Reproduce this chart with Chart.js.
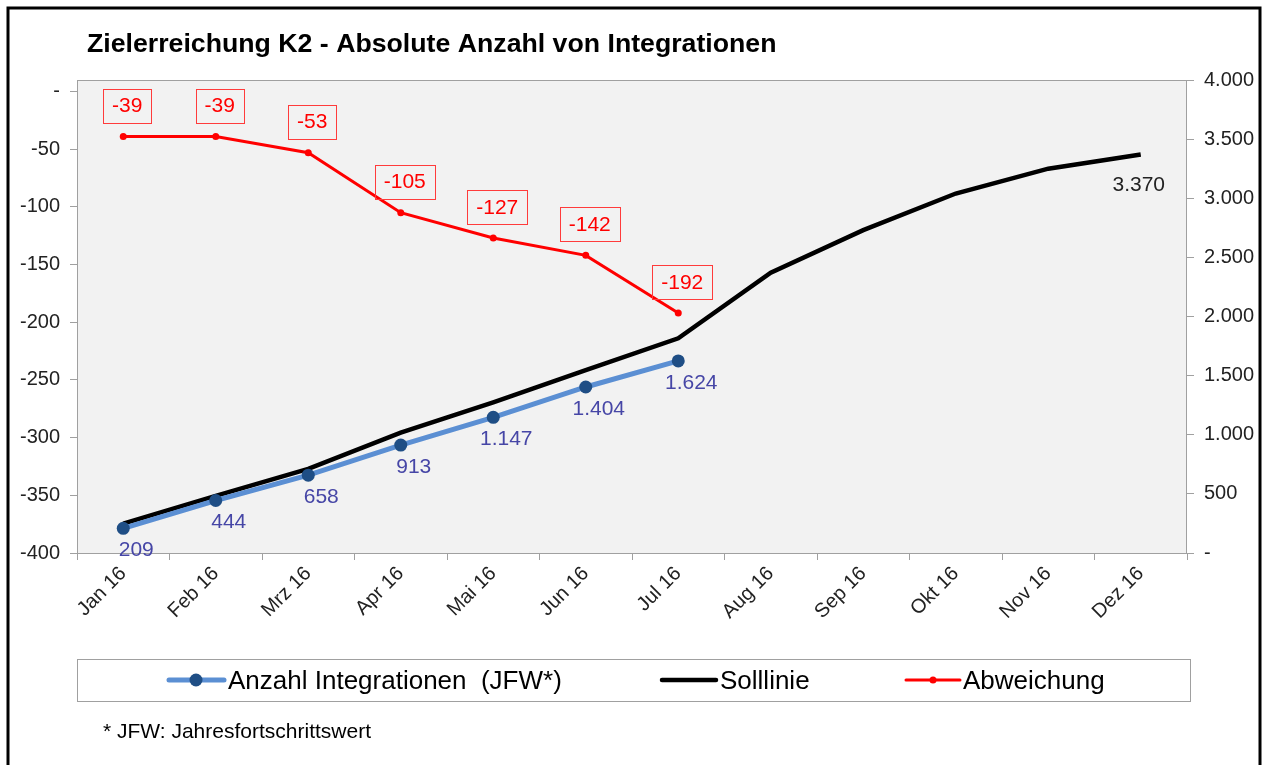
<!DOCTYPE html>
<html>
<head>
<meta charset="utf-8">
<script src="https://cdn.jsdelivr.net/npm/chart.js@4/dist/chart.umd.min.js"></script>
<style>
  html, body { margin: 0; padding: 0; background: #fff; }
  #wrap { width: 1270px; height: 765px; }
</style>
</head>
<body>
<div id="wrap"><canvas id="k2Chart" width="1270" height="765"></canvas></div>
<script>
// Werte
const months = ['Jan 16', 'Feb 16', 'Mrz 16', 'Apr 16', 'Mai 16', 'Jun 16', 'Jul 16', 'Aug 16', 'Sep 16', 'Okt 16', 'Nov 16', 'Dez 16'];
const integrationen = [209, 444, 658, 913, 1147, 1404, 1624];
const solllinie = [248, 483, 711, 1018, 1274, 1546, 1816, 2370, 2730, 3040, 3250, 3370];
const abweichung = [-39, -39, -53, -105, -127, -142, -192];
const leftTicks = [-400, -350, -300, -250, -200, -150, -100, -50, 0];
const rightTicks = [0, 500, 1000, 1500, 2000, 2500, 3000, 3500, 4000];

const FONT = "'Liberation Sans', Arial, sans-serif";

function fmt(v) {
    return String(v).replace(/\B(?=(\d{3})+(?!\d))/g, '.');
}

const k2Plugin = {
    id: 'k2Plugin',
    beforeDraw(chart) {
        const c = chart.ctx, a = chart.chartArea;
        c.save();
        c.fillStyle = '#ffffff';
        c.fillRect(0, 0, chart.width, chart.height);
        c.fillStyle = '#f2f2f2';
        c.fillRect(a.left, a.top, a.right - a.left, a.bottom - a.top);
        c.strokeStyle = '#a0a0a0';
        c.lineWidth = 1;
        c.strokeRect(a.left + 0.5, a.top + 0.5, a.right - a.left - 1, a.bottom - a.top);
        c.restore();
    },
    afterDraw(chart) {
        const c = chart.ctx;
        c.save();

        // Titel
        c.fillStyle = '#000';
        c.font = 'bold 26.7px ' + FONT;
        c.textAlign = 'left';
        c.textBaseline = 'alphabetic';
        c.fillText('Zielerreichung K2 - Absolute Anzahl von Integrationen', 87, 52);

        // Datenbeschriftungen
        c.font = '21px ' + FONT;
        c.textAlign = 'center';
        c.textBaseline = 'middle';

        chart.getDatasetMeta(0).data.forEach((p, i) => {
            c.fillStyle = '#4646a6';
            c.fillText(fmt(integrationen[i]), p.x + 13, p.y + 22);
        });

        const sollPts = chart.getDatasetMeta(1).data;
        const last = sollPts[sollPts.length - 1];
        c.fillStyle = '#222';
        c.fillText(fmt(solllinie[solllinie.length - 1]), last.x - 2, last.y + 31);

        chart.getDatasetMeta(2).data.forEach((p, i) => {
            const txt = fmt(abweichung[i]);
            const w = c.measureText(txt).width + 18;
            const h = 34;
            const cx = p.x + 4, cy = p.y - 31;
            c.strokeStyle = '#ff3b3b';
            c.lineWidth = 1;
            c.strokeRect(Math.round(cx - w / 2) + 0.5, Math.round(cy - h / 2) + 0.5, Math.round(w), h);
            c.fillStyle = '#ff0000';
            c.fillText(txt, cx, cy + 1);
        });

        // Legende
        c.strokeStyle = '#a0a0a0';
        c.lineWidth = 1;
        c.strokeRect(77.5, 659.5, 1113, 42);
        const ly = 680;
        c.lineCap = 'round';
        c.strokeStyle = '#5b8fd3';
        c.lineWidth = 5;
        c.beginPath(); c.moveTo(169, ly); c.lineTo(224, ly); c.stroke();
        c.fillStyle = '#1f4e85';
        c.beginPath(); c.arc(196, ly, 6.5, 0, Math.PI * 2); c.fill();
        c.strokeStyle = '#000';
        c.lineWidth = 4.5;
        c.beginPath(); c.moveTo(662, ly); c.lineTo(716, ly); c.stroke();
        c.strokeStyle = '#ff0000';
        c.lineWidth = 3;
        c.beginPath(); c.moveTo(906, ly); c.lineTo(960, ly); c.stroke();
        c.fillStyle = '#ff0000';
        c.beginPath(); c.arc(933, ly, 3.5, 0, Math.PI * 2); c.fill();

        c.fillStyle = '#000';
        c.font = '26px ' + FONT;
        c.textAlign = 'left';
        c.textBaseline = 'alphabetic';
        c.fillText('Anzahl Integrationen  (JFW*)', 228, 689);
        c.fillText('Solllinie', 720, 689);
        c.fillText('Abweichung', 963, 689);

        // Fussnote
        c.font = '21px ' + FONT;
        c.fillText('* JFW: Jahresfortschrittswert', 103, 738);

        // Rahmen
        c.strokeStyle = '#000';
        c.lineWidth = 3;
        c.strokeRect(8, 8, 1252, 800);
        c.restore();
    }
};

const ctx = document.getElementById('k2Chart').getContext('2d');
new Chart(ctx, {
    type: 'line',
    data: {
        labels: months,
        datasets: [{
            label: 'Anzahl Integrationen  (JFW*)',
            data: integrationen,
            yAxisID: 'y1',
            borderColor: '#5b8fd3',
            borderWidth: 5,
            pointRadius: 6.5,
            pointBackgroundColor: '#1f4e85',
            pointBorderWidth: 0,
            tension: 0
        }, {
            label: 'Solllinie',
            data: solllinie,
            yAxisID: 'y1',
            borderColor: '#000000',
            borderWidth: 4.5,
            pointRadius: 0,
            tension: 0
        }, {
            label: 'Abweichung',
            data: abweichung,
            yAxisID: 'y',
            borderColor: '#ff0000',
            borderWidth: 3,
            pointRadius: 3.5,
            pointBackgroundColor: '#ff0000',
            pointBorderWidth: 0,
            tension: 0
        }]
    },
    options: {
        responsive: false,
        animation: false,
        events: [],
        layout: { padding: { left: 7, right: 13, top: 80, bottom: 0 } },
        plugins: {
            legend: { display: false },
            tooltip: { enabled: false }
        },
        scales: {
            x: {
                offset: true,
                grid: { offset: true, drawOnChartArea: false, tickLength: 7, color: '#a0a0a0' },
                border: { display: false },
                ticks: {
                    minRotation: 45,
                    maxRotation: 45,
                    padding: 2,
                    color: '#222',
                    font: { family: FONT, size: 20 }
                },
                afterFit(s) { s.height = 212; }
            },
            y: {
                position: 'left',
                min: -400,
                max: 10,
                grid: { drawOnChartArea: false, tickLength: 7, color: '#a0a0a0' },
                border: { display: false },
                afterBuildTicks(s) { s.ticks = leftTicks.map(v => ({ value: v })); },
                ticks: {
                    padding: 10,
                    color: '#222',
                    font: { family: FONT, size: 20 },
                    callback: v => v === 0 ? '-' : fmt(v)
                },
                afterFit(s) { s.width = 70; }
            },
            y1: {
                position: 'right',
                min: 0,
                max: 4000,
                grid: { drawOnChartArea: false, tickLength: 7, color: '#a0a0a0' },
                border: { display: false },
                afterBuildTicks(s) { s.ticks = rightTicks.map(v => ({ value: v })); },
                ticks: {
                    padding: 10,
                    color: '#222',
                    font: { family: FONT, size: 20 },
                    callback: v => v === 0 ? '-' : fmt(v)
                },
                afterFit(s) { s.width = 70; }
            }
        }
    },
    plugins: [k2Plugin]
});
</script>
</body>
</html>
